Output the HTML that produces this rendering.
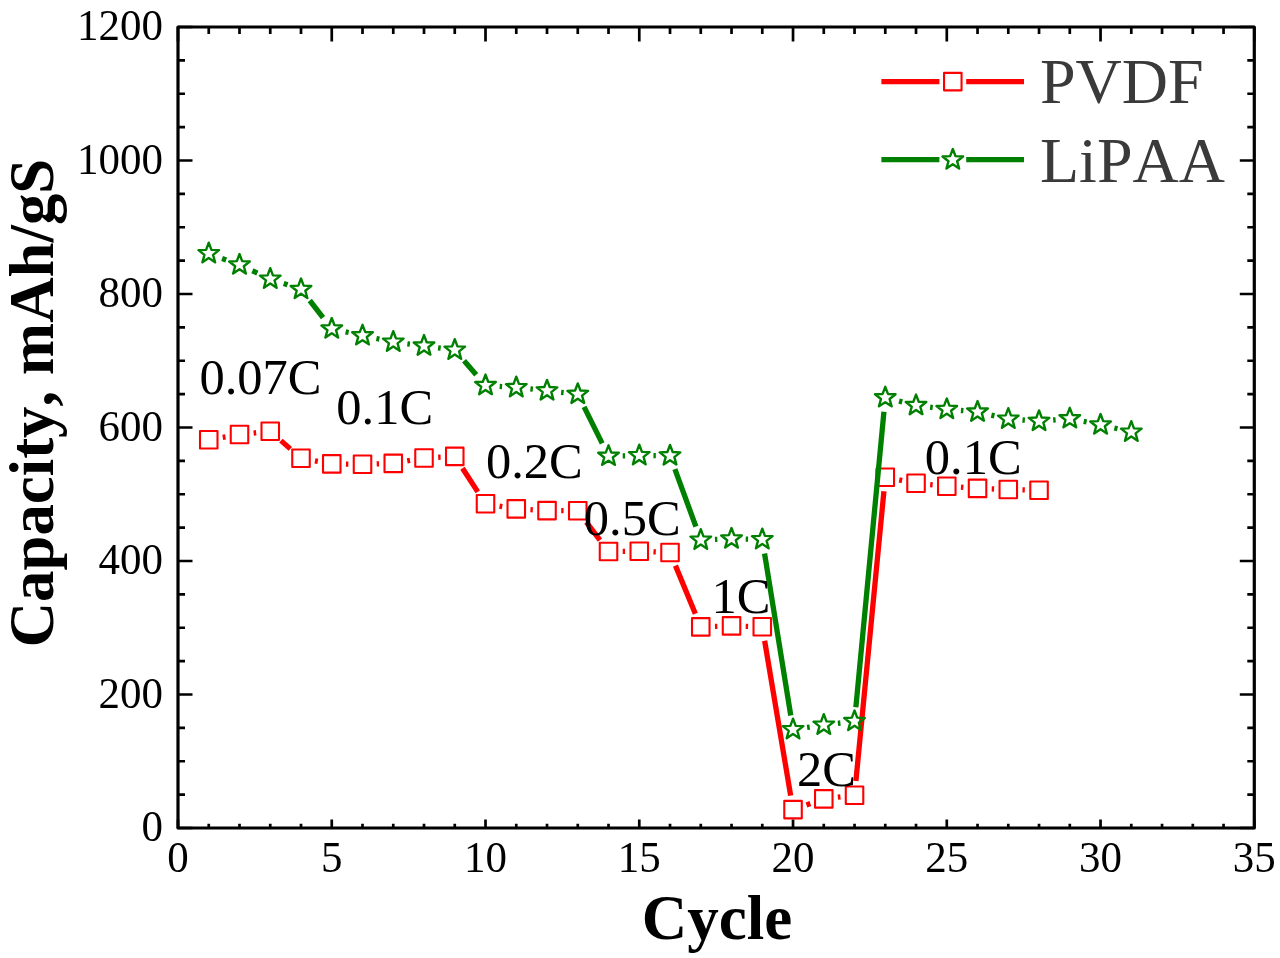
<!DOCTYPE html>
<html><head><meta charset="utf-8"><style>html,body{margin:0;padding:0;background:#fff;width:1280px;height:958px;overflow:hidden}svg{display:block;will-change:transform}text{font-family:"Liberation Serif",serif;font-kerning:none}</style></head>
<body><svg width="1280" height="958" viewBox="0 0 1280 958"><path d="M178.00 828.0v-8.6M178.00 27.0v14.5M208.75 828.0v-4.3M208.75 27.0v7M239.50 828.0v-4.3M239.50 27.0v7M270.25 828.0v-4.3M270.25 27.0v7M301.01 828.0v-4.3M301.01 27.0v7M331.76 828.0v-8.6M331.76 27.0v14.5M362.51 828.0v-4.3M362.51 27.0v7M393.26 828.0v-4.3M393.26 27.0v7M424.01 828.0v-4.3M424.01 27.0v7M454.76 828.0v-4.3M454.76 27.0v7M485.51 828.0v-8.6M485.51 27.0v14.5M516.27 828.0v-4.3M516.27 27.0v7M547.02 828.0v-4.3M547.02 27.0v7M577.77 828.0v-4.3M577.77 27.0v7M608.52 828.0v-4.3M608.52 27.0v7M639.27 828.0v-8.6M639.27 27.0v14.5M670.02 828.0v-4.3M670.02 27.0v7M700.77 828.0v-4.3M700.77 27.0v7M731.53 828.0v-4.3M731.53 27.0v7M762.28 828.0v-4.3M762.28 27.0v7M793.03 828.0v-8.6M793.03 27.0v14.5M823.78 828.0v-4.3M823.78 27.0v7M854.53 828.0v-4.3M854.53 27.0v7M885.28 828.0v-4.3M885.28 27.0v7M916.03 828.0v-4.3M916.03 27.0v7M946.79 828.0v-8.6M946.79 27.0v14.5M977.54 828.0v-4.3M977.54 27.0v7M1008.29 828.0v-4.3M1008.29 27.0v7M1039.04 828.0v-4.3M1039.04 27.0v7M1069.79 828.0v-4.3M1069.79 27.0v7M1100.54 828.0v-8.6M1100.54 27.0v14.5M1131.29 828.0v-4.3M1131.29 27.0v7M1162.05 828.0v-4.3M1162.05 27.0v7M1192.80 828.0v-4.3M1192.80 27.0v7M1223.55 828.0v-4.3M1223.55 27.0v7M1254.30 828.0v-8.6M1254.30 27.0v14.5M178.0 828.00h14.5M1254.3 828.00h-14.5M178.0 794.62h7M1254.3 794.62h-7M178.0 761.25h7M1254.3 761.25h-7M178.0 727.88h7M1254.3 727.88h-7M178.0 694.50h14.5M1254.3 694.50h-14.5M178.0 661.12h7M1254.3 661.12h-7M178.0 627.75h7M1254.3 627.75h-7M178.0 594.38h7M1254.3 594.38h-7M178.0 561.00h14.5M1254.3 561.00h-14.5M178.0 527.62h7M1254.3 527.62h-7M178.0 494.25h7M1254.3 494.25h-7M178.0 460.88h7M1254.3 460.88h-7M178.0 427.50h14.5M1254.3 427.50h-14.5M178.0 394.12h7M1254.3 394.12h-7M178.0 360.75h7M1254.3 360.75h-7M178.0 327.38h7M1254.3 327.38h-7M178.0 294.00h14.5M1254.3 294.00h-14.5M178.0 260.62h7M1254.3 260.62h-7M178.0 227.25h7M1254.3 227.25h-7M178.0 193.88h7M1254.3 193.88h-7M178.0 160.50h14.5M1254.3 160.50h-14.5M178.0 127.12h7M1254.3 127.12h-7M178.0 93.75h7M1254.3 93.75h-7M178.0 60.38h7M1254.3 60.38h-7M178.0 27.00h14.5M1254.3 27.00h-14.5" stroke="#000" stroke-width="2.7" fill="none"/><rect x="178.0" y="27.0" width="1076.3" height="801.0" fill="none" stroke="#000" stroke-width="3.2" stroke-linejoin="round"/><g font-family="Liberation Serif" font-size="43" fill="#000"><text transform="translate(178.00 872) scale(1 1.025)" text-anchor="middle">0</text><text transform="translate(331.76 872) scale(1 1.025)" text-anchor="middle">5</text><text transform="translate(485.51 872) scale(1 1.025)" text-anchor="middle">10</text><text transform="translate(639.27 872) scale(1 1.025)" text-anchor="middle">15</text><text transform="translate(793.03 872) scale(1 1.025)" text-anchor="middle">20</text><text transform="translate(946.79 872) scale(1 1.025)" text-anchor="middle">25</text><text transform="translate(1100.54 872) scale(1 1.025)" text-anchor="middle">30</text><text transform="translate(1254.30 872) scale(1 1.025)" text-anchor="middle">35</text><text transform="translate(162.9 841.20) scale(1 1.025)" text-anchor="end">0</text><text transform="translate(162.9 707.70) scale(1 1.025)" text-anchor="end">200</text><text transform="translate(162.9 574.20) scale(1 1.025)" text-anchor="end">400</text><text transform="translate(162.9 440.70) scale(1 1.025)" text-anchor="end">600</text><text transform="translate(162.9 307.20) scale(1 1.025)" text-anchor="end">800</text><text transform="translate(162.9 173.70) scale(1 1.025)" text-anchor="end">1000</text><text transform="translate(162.9 40.20) scale(1 1.025)" text-anchor="end">1200</text></g><path d="M222.75 437.33L225.50 436.87M253.62 433.01L256.13 432.74M280.92 440.62L290.34 448.88M314.97 460.82L317.79 461.33M345.96 464.06L348.31 464.09M376.70 463.86L379.07 463.79M407.25 460.94L410.03 460.46M438.19 457.26L440.58 457.14M462.50 468.31L477.78 491.84M499.52 506.10L502.26 506.55M530.44 509.68L532.84 509.82M561.22 510.67L563.57 510.68M586.32 522.08L599.97 540.17M622.72 551.41L625.07 551.39M653.46 551.85L655.83 551.95M675.45 565.62L695.35 613.78M714.97 626.44L717.33 626.36M745.72 626.29L748.08 626.36M764.63 640.75L790.67 795.60M806.44 804.93L810.37 803.57M837.88 797.20L840.43 796.90M855.90 781.07L883.92 491.33M899.21 479.96L902.11 480.54M930.17 484.63L932.65 484.87M960.95 487.21L963.37 487.39M991.73 488.91L994.10 488.99M1022.48 489.87L1024.84 489.93" stroke="#ff0000" stroke-width="5.3" fill="none"/><path d="M200.00 430.95h17.5v17.5h-17.5ZM230.75 425.75h17.5v17.5h-17.5ZM261.50 422.50h17.5v17.5h-17.5ZM292.26 449.50h17.5v17.5h-17.5ZM323.01 455.15h17.5v17.5h-17.5ZM353.76 455.50h17.5v17.5h-17.5ZM384.51 454.65h17.5v17.5h-17.5ZM415.26 449.25h17.5v17.5h-17.5ZM446.01 447.65h17.5v17.5h-17.5ZM476.76 495.00h17.5v17.5h-17.5ZM507.52 500.15h17.5v17.5h-17.5ZM538.27 501.85h17.5v17.5h-17.5ZM569.02 502.00h17.5v17.5h-17.5ZM599.77 542.75h17.5v17.5h-17.5ZM630.52 542.55h17.5v17.5h-17.5ZM661.27 543.75h17.5v17.5h-17.5ZM692.02 618.15h17.5v17.5h-17.5ZM722.78 617.15h17.5v17.5h-17.5ZM753.53 618.00h17.5v17.5h-17.5ZM784.28 800.85h17.5v17.5h-17.5ZM815.03 790.15h17.5v17.5h-17.5ZM845.78 786.45h17.5v17.5h-17.5ZM876.53 468.45h17.5v17.5h-17.5ZM907.28 474.55h17.5v17.5h-17.5ZM938.04 477.45h17.5v17.5h-17.5ZM968.79 479.65h17.5v17.5h-17.5ZM999.54 480.75h17.5v17.5h-17.5ZM1030.29 481.55h17.5v17.5h-17.5Z" stroke="#ff0000" stroke-width="2.1" fill="none" stroke-linejoin="round"/><path d="M222.08 258.40L226.17 259.90M252.39 270.75L257.36 273.05M283.72 283.51L287.54 284.79M309.73 300.50L323.03 317.60M345.62 331.87L348.64 332.53M376.41 338.49L379.36 339.11M407.35 343.79L409.92 344.11M438.09 347.78L440.69 348.12M464.08 360.72L476.20 374.68M499.68 386.37L502.10 386.53M530.39 388.97L532.89 389.23M561.13 392.31L563.66 392.59M584.09 406.92L602.20 443.38M622.72 455.82L625.07 455.78M653.47 455.59L655.82 455.61M674.89 469.04L695.91 526.66M714.96 539.45L717.34 539.35M745.72 539.12L748.08 539.18M764.55 553.52L790.76 715.48M807.08 727.44L809.73 727.06M837.88 723.30L840.43 723.00M855.87 707.16L883.94 411.74M899.05 401.09L902.27 401.91M930.12 407.19L932.70 407.51M960.94 410.50L963.39 410.70M991.37 415.09L994.45 415.81M1022.45 420.01L1024.88 420.19M1053.19 420.00L1055.64 419.80M1083.71 421.41L1086.62 421.99M1114.37 428.04L1117.47 428.76" stroke="#008000" stroke-width="5.3" fill="none"/><path d="M208.75 242.70L211.42 249.83L219.02 250.16L213.07 254.90L215.10 262.24L208.75 258.04L202.40 262.24L204.44 254.90L198.48 250.16L206.09 249.83ZM239.50 254.00L242.17 261.13L249.77 261.46L243.82 266.20L245.85 273.54L239.50 269.34L233.15 273.54L235.19 266.20L229.23 261.46L236.84 261.13ZM270.25 268.20L272.92 275.33L280.53 275.66L274.57 280.40L276.60 287.74L270.25 283.54L263.91 287.74L265.94 280.40L259.98 275.66L267.59 275.33ZM301.01 278.50L303.67 285.63L311.28 285.96L305.32 290.70L307.35 298.04L301.01 293.84L294.66 298.04L296.69 290.70L290.73 285.96L298.34 285.63ZM331.76 318.00L334.42 325.13L342.03 325.46L336.07 330.20L338.11 337.54L331.76 333.34L325.41 337.54L327.44 330.20L321.49 325.46L329.09 325.13ZM362.51 324.80L365.17 331.93L372.78 332.26L366.82 337.00L368.86 344.34L362.51 340.14L356.16 344.34L358.19 337.00L352.24 332.26L359.84 331.93ZM393.26 331.20L395.93 338.33L403.53 338.66L397.57 343.40L399.61 350.74L393.26 346.54L386.91 350.74L388.95 343.40L382.99 338.66L390.59 338.33ZM424.01 335.10L426.68 342.23L434.28 342.56L428.33 347.30L430.36 354.64L424.01 350.44L417.66 354.64L419.70 347.30L413.74 342.56L421.35 342.23ZM454.76 339.20L457.43 346.33L465.03 346.66L459.08 351.40L461.11 358.74L454.76 354.54L448.41 358.74L450.45 351.40L444.49 346.66L452.10 346.33ZM485.51 374.60L488.18 381.73L495.79 382.06L489.83 386.80L491.86 394.14L485.51 389.94L479.17 394.14L481.20 386.80L475.24 382.06L482.85 381.73ZM516.27 376.70L518.93 383.83L526.54 384.16L520.58 388.90L522.61 396.24L516.27 392.04L509.92 396.24L511.95 388.90L505.99 384.16L513.60 383.83ZM547.02 379.90L549.68 387.03L557.29 387.36L551.33 392.10L553.37 399.44L547.02 395.24L540.67 399.44L542.70 392.10L536.75 387.36L544.35 387.03ZM577.77 383.40L580.43 390.53L588.04 390.86L582.08 395.60L584.12 402.94L577.77 398.74L571.42 402.94L573.45 395.60L567.50 390.86L575.10 390.53ZM608.52 445.30L611.19 452.43L618.79 452.76L612.83 457.50L614.87 464.84L608.52 460.64L602.17 464.84L604.21 457.50L598.25 452.76L605.85 452.43ZM639.27 444.70L641.94 451.83L649.54 452.16L643.59 456.90L645.62 464.24L639.27 460.04L632.92 464.24L634.96 456.90L629.00 452.16L636.61 451.83ZM670.02 444.90L672.69 452.03L680.29 452.36L674.34 457.10L676.37 464.44L670.02 460.24L663.67 464.44L665.71 457.10L659.75 452.36L667.36 452.03ZM700.77 529.20L703.44 536.33L711.05 536.66L705.09 541.40L707.12 548.74L700.77 544.54L694.43 548.74L696.46 541.40L690.50 536.66L698.11 536.33ZM731.53 528.00L734.19 535.13L741.80 535.46L735.84 540.20L737.87 547.54L731.53 543.34L725.18 547.54L727.21 540.20L721.25 535.46L728.86 535.13ZM762.28 528.70L764.94 535.83L772.55 536.16L766.59 540.90L768.63 548.24L762.28 544.04L755.93 548.24L757.96 540.90L752.01 536.16L759.61 535.83ZM793.03 718.70L795.69 725.83L803.30 726.16L797.34 730.90L799.38 738.24L793.03 734.04L786.68 738.24L788.71 730.90L782.76 726.16L790.36 725.83ZM823.78 714.20L826.45 721.33L834.05 721.66L828.09 726.40L830.13 733.74L823.78 729.54L817.43 733.74L819.47 726.40L813.51 721.66L821.11 721.33ZM854.53 710.50L857.20 717.63L864.80 717.96L858.85 722.70L860.88 730.04L854.53 725.84L848.18 730.04L850.22 722.70L844.26 717.96L851.87 717.63ZM885.28 386.80L887.95 393.93L895.55 394.26L889.60 399.00L891.63 406.34L885.28 402.14L878.93 406.34L880.97 399.00L875.01 394.26L882.62 393.93ZM916.03 394.60L918.70 401.73L926.31 402.06L920.35 406.80L922.38 414.14L916.03 409.94L909.69 414.14L911.72 406.80L905.76 402.06L913.37 401.73ZM946.79 398.50L949.45 405.63L957.06 405.96L951.10 410.70L953.13 418.04L946.79 413.84L940.44 418.04L942.47 410.70L936.51 405.96L944.12 405.63ZM977.54 401.10L980.20 408.23L987.81 408.56L981.85 413.30L983.89 420.64L977.54 416.44L971.19 420.64L973.22 413.30L967.27 408.56L974.87 408.23ZM1008.29 408.20L1010.95 415.33L1018.56 415.66L1012.60 420.40L1014.64 427.74L1008.29 423.54L1001.94 427.74L1003.97 420.40L998.02 415.66L1005.62 415.33ZM1039.04 410.40L1041.71 417.53L1049.31 417.86L1043.35 422.60L1045.39 429.94L1039.04 425.74L1032.69 429.94L1034.73 422.60L1028.77 417.86L1036.37 417.53ZM1069.79 407.80L1072.46 414.93L1080.06 415.26L1074.11 420.00L1076.14 427.34L1069.79 423.14L1063.44 427.34L1065.48 420.00L1059.52 415.26L1067.13 414.93ZM1100.54 414.00L1103.21 421.13L1110.81 421.46L1104.86 426.20L1106.89 433.54L1100.54 429.34L1094.19 433.54L1096.23 426.20L1090.27 421.46L1097.88 421.13ZM1131.29 421.20L1133.96 428.33L1141.57 428.66L1135.61 433.40L1137.64 440.74L1131.29 436.54L1124.95 440.74L1126.98 433.40L1121.02 428.66L1128.63 428.33Z" stroke="#008000" stroke-width="2.4" fill="none" stroke-linejoin="round"/><g font-family="Liberation Serif" font-size="50.5" fill="#000"><text transform="translate(199.5 393.8) scale(1 1.012)">0.07C</text><text transform="translate(336.3 424.3) scale(1 1.012)">0.1C</text><text transform="translate(486 477.9) scale(1 1.012)">0.2C</text><text transform="translate(583.8 535) scale(1 1.012)">0.5C</text><text transform="translate(711.5 613.1) scale(1 1.012)">1C</text><text transform="translate(797 786.4) scale(1 1.012)">2C</text><text transform="translate(924.8 473.9) scale(1 1.012)">0.1C</text></g><path d="M881.4 81.6H939.4M966.1999999999999 81.6H1024" stroke="#ff0000" stroke-width="5.3"/><path d="M944.05 72.85h17.5v17.5h-17.5Z" stroke="#ff0000" stroke-width="2.1" fill="none" stroke-linejoin="round"/><path d="M881.4 159.7H939.4M966.1999999999999 159.7H1024" stroke="#008000" stroke-width="5.3"/><path d="M952.80 149.00L955.47 156.13L963.07 156.46L957.11 161.20L959.15 168.54L952.80 164.34L946.45 168.54L948.49 161.20L942.53 156.46L950.13 156.13Z" stroke="#008000" stroke-width="2.4" fill="none" stroke-linejoin="round"/><g font-family="Liberation Serif" font-size="64" fill="#3a3a3a"><text x="1040" y="103">PVDF</text><text x="1040" y="182">LiPAA</text></g><text x="717" y="939" text-anchor="middle" font-family="Liberation Serif" font-weight="bold" font-size="63" fill="#000">Cycle</text><text transform="translate(52.5 403) rotate(-90)" text-anchor="middle" font-family="Liberation Serif" font-weight="bold" font-size="62.8" fill="#000">Capacity, mAh/gS</text></svg></body></html>
